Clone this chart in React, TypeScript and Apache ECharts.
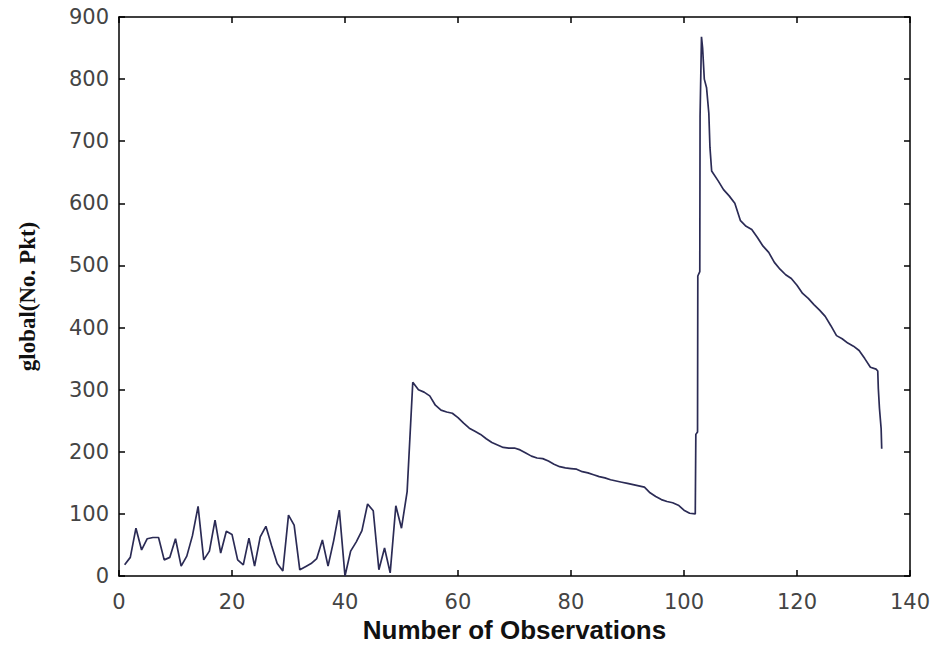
import React, { useEffect, useRef } from "react";
import * as echarts from "echarts";

// Observations 1..102 (integer steps)
const firstRunStart = 1;
const firstRun = [
  18, 30, 77, 42, 60, 62, 62, 26, 30, 60,
  16, 32, 65, 112, 26, 40, 90, 37, 72, 67,
  26, 18, 61, 16, 63, 80, 49, 20, 8, 98,
  82, 10, 15, 20, 28, 58, 16, 57, 106, 0,
  40, 55, 73, 116, 105, 10, 45, 5, 113, 77,
  136, 312, 300, 296, 290, 275, 267, 264, 262, 255,
  246, 238, 233, 228, 221, 215, 211, 207, 206, 206,
  203, 198, 193, 190, 189, 185, 180, 176, 174, 173,
  172, 168, 166, 163, 160, 158, 155, 153, 151, 149,
  147, 145, 143, 134, 128, 123, 120, 118, 114, 106,
  101, 100,
];

// Sharp burst around observation 102-105
const spikeX = [102.1, 102.4, 102.45, 102.8, 102.85, 103.1, 103.3, 103.6, 104, 104.4, 104.6, 104.9];
const spikeY = [228, 232, 483, 490, 740, 868, 850, 800, 786, 745, 690, 652];

// Decay 106..134
const decayStart = 106;
const decayRun = [
  637, 622, 612, 600, 572, 563, 558, 545, 531, 521,
  505, 494, 485, 479, 468, 455, 447, 437, 428, 418,
  403, 387, 382, 375, 370, 363, 350, 336, 333,
];

// Final drop
const tailX = [134.3, 134.4, 134.6, 134.9, 135];
const tailY = [330, 302, 270, 237, 205];

const xTicks = { min: 0, max: 140, interval: 20 };
const yTicks = { min: 0, max: 900, interval: 100 };

export default function App() {
  const ref = useRef<HTMLDivElement>(null);

  useEffect(() => {
    if (!ref.current) return;
    const chart = echarts.init(ref.current, null, { renderer: "svg" });

    const data: [number, number][] = [];
    firstRun.forEach((v, i) => data.push([firstRunStart + i, v]));
    spikeX.forEach((x, i) => data.push([x, spikeY[i]]));
    decayRun.forEach((v, i) => data.push([decayStart + i, v]));
    tailX.forEach((x, i) => data.push([x, tailY[i]]));

    const tickLabel = {
      color: "#444",
      fontFamily: "DejaVu Sans",
      fontSize: 21,
    };
    const axisLine = { show: true, onZero: false, lineStyle: { color: "#000", width: 1.5 } };
    const tick = { show: true, inside: true, length: 6, lineStyle: { color: "#000", width: 1.5 } };

    chart.setOption({
      animation: false,
      backgroundColor: "#fff",
      grid: { left: 119, right: 23, top: 17, bottom: 70 },
      xAxis: [
        {
          type: "value",
          position: "bottom",
          ...xTicks,
          axisLine,
          axisTick: tick,
          splitLine: { show: false },
          axisLabel: { ...tickLabel, margin: 15 },
          name: "Number of Observations",
          nameLocation: "middle",
          nameGap: 41,
          nameTextStyle: {
            color: "#111",
            fontFamily: "Liberation Sans",
            fontWeight: "bold",
            fontSize: 26,
          },
        },
        {
          type: "value",
          position: "top",
          ...xTicks,
          axisLine,
          axisTick: tick,
          splitLine: { show: false },
          axisLabel: { show: false },
        },
      ],
      yAxis: [
        {
          type: "value",
          position: "left",
          ...yTicks,
          axisLine,
          axisTick: tick,
          splitLine: { show: false },
          axisLabel: { ...tickLabel, margin: 10 },
          name: "global(No. Pkt)",
          nameLocation: "middle",
          nameGap: 80,
          nameTextStyle: {
            color: "#111",
            fontFamily: "Liberation Serif",
            fontWeight: "bold",
            fontSize: 23,
          },
        },
        {
          type: "value",
          position: "right",
          ...yTicks,
          axisLine,
          axisTick: tick,
          splitLine: { show: false },
          axisLabel: { show: false },
        },
      ],
      series: [
        {
          type: "line",
          xAxisIndex: 0,
          yAxisIndex: 0,
          data,
          showSymbol: false,
          symbol: "none",
          lineStyle: { color: "#2b2b55", width: 1.7 },
        },
      ],
    });

    return () => chart.dispose();
  }, []);

  return (
    <div
      ref={ref}
      style={{ position: "absolute", left: 0, top: 0, width: 933, height: 648, background: "#fff" }}
    />
  );
}
